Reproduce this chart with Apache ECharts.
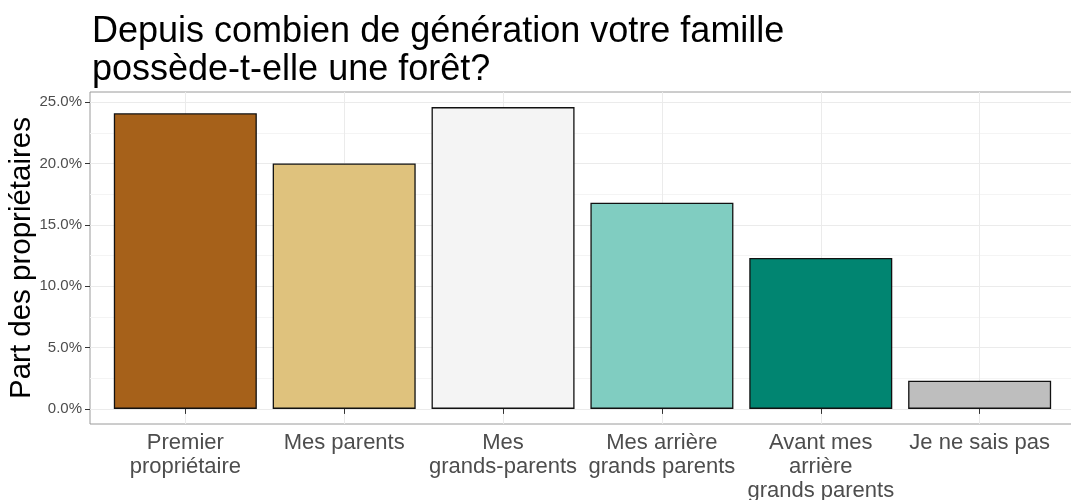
<!DOCTYPE html>
<html>
<head>
<meta charset="utf-8">
<script src="https://cdn.jsdelivr.net/npm/echarts@6/dist/echarts.min.js"></script>
<style>
  html, body { margin: 0; padding: 0; background: #fff; }
  #chart { width: 1071px; height: 500px; }
</style>
</head>
<body>
<div id="chart"></div>
<script>
// catégories (axe x)
const categories = ['Premier\npropriétaire', 'Mes parents', 'Mes\ngrands-parents', 'Mes arrière\ngrands parents', 'Avant mes\narrière\ngrands parents', 'Je ne sais pas']
// part des propriétaires (%)
const shares = [24.1, 20.0, 24.6, 16.8, 12.3, 2.3]
const barColors = ['#A6611A', '#DFC27D', '#F4F4F4', '#80CDC1', '#018571', '#BEBEBE']
// graduations
const yTicks = [0, 5, 10, 15, 20, 25]
const yMinorTicks = [2.5, 7.5, 12.5, 17.5, 22.5]
const xTicks = categories.map((c, i) => i + 1)

const chart = echarts.init(document.getElementById('chart'))

const option = {
  animation: false,
  textStyle: { fontFamily: 'Liberation Sans, Arial, sans-serif' },
  title: {
    text: 'Depuis combien de génération votre famille\npossède-t-elle une forêt?',
    left: 87,
    top: 8,
    textStyle: { fontSize: 36, lineHeight: 38, fontWeight: 'normal', color: '#000' }
  },
  grid: {
    left: 90,
    right: -10,
    top: 92,
    bottom: 76,
    outerBoundsMode: 'none',
    containLabel: false,
    show: true,
    borderColor: '#9a9a9a',
    borderWidth: 1,
    backgroundColor: '#fff'
  },
  xAxis: {
    type: 'value',
    min: 0.4,
    // le panneau déborde à droite de l'image
    max: 6.638,
    axisLine: { show: false },
    axisTick: { show: true, length: 5, customValues: xTicks, lineStyle: { color: '#333' } },
    axisLabel: {
      customValues: xTicks,
      formatter: (v) => categories[Math.round(v) - 1] || '',
      fontSize: 22,
      lineHeight: 24,
      color: '#4d4d4d',
      margin: 7,
      align: 'center',
      verticalAlign: 'top'
    },
    splitLine: { show: true, lineStyle: { color: '#ebebeb', width: 1 } }
  },
  yAxis: [
    {
      type: 'value',
      min: -1.23,
      max: 25.83,
      name: 'Part des propriétaires',
      nameLocation: 'middle',
      nameGap: 53,
      nameMoveOverlap: false,
      nameTextStyle: { fontSize: 29.5, color: '#000' },
      axisLine: { show: false },
      axisTick: { show: true, length: 5, customValues: yTicks, lineStyle: { color: '#333' } },
      axisLabel: {
        customValues: yTicks,
        formatter: (v) => v.toFixed(1) + '%',
        fontSize: 15,
        color: '#4d4d4d',
        margin: 8
      },
      splitLine: { show: true, lineStyle: { color: '#ebebeb', width: 1 } }
    },
    {
      // lignes secondaires
      type: 'value',
      min: -1.23,
      max: 25.83,
      position: 'left',
      axisLine: { show: false },
      axisTick: { show: false, customValues: yMinorTicks },
      axisLabel: { show: false, customValues: yMinorTicks },
      splitLine: { show: true, lineStyle: { color: '#f4f4f4', width: 1 } }
    }
  ],
  series: [
    {
      type: 'bar',
      yAxisIndex: 0,
      barWidth: 143,
      data: shares.map((v, i) => ({
        value: [i + 1, v],
        itemStyle: { color: barColors[i] }
      })),
      itemStyle: { borderColor: '#111', borderWidth: 1.3 },
      z: 5
    }
  ]
}

chart.setOption(option)
</script>
</body>
</html>
